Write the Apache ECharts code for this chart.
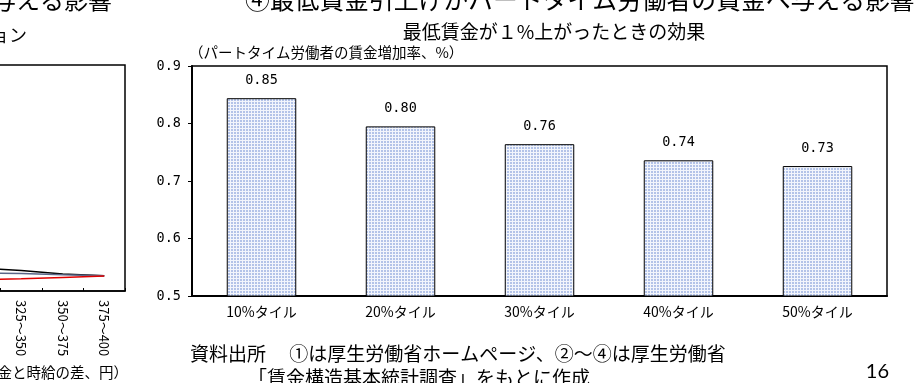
<!DOCTYPE html>
<html>
<head>
<meta charset="utf-8">
<script src="https://cdn.jsdelivr.net/npm/echarts@6/dist/echarts.min.js"></script>
<style>
html,body{margin:0;padding:0;background:#fff;}
#main{width:921px;height:383px;}
</style>
</head>
<body>
<div id="main"></div>
<script>
// ---- main bar chart data ----
const categories = ['10%タイル', '20%タイル', '30%タイル', '40%タイル', '50%タイル'];
const barValues = [0.844, 0.795, 0.764, 0.736, 0.726];
const barLabels = ['0.85', '0.80', '0.76', '0.74', '0.73'];
const yMin = 0.5, yMax = 0.9, yStep = 0.1;

// ---- partially visible left line chart data ----
const leftCategories = ['300～325', '325～350', '350～375', '375～400'];
const leftBlack = [1.02, 0.91, 0.75, 0.68];
const leftGrey = [0.80, 0.77, 0.72, 0.68];
const leftRed = [0.50, 0.54, 0.60, 0.66];

// ---- texts ----
const mainTitle = '④最低賃金引上げがパートタイム労働者の賃金へ与える影響';
const leftTitle = '③最低賃金引上げがパートタイム労働者の賃金へ与える影響';
const leftSub = 'シミュレーション';
const subTitle = '最低賃金が１%上がったときの効果';
const yName = '（パートタイム労働者の賃金増加率、%）';
const leftXName = '（最低賃金と時給の差、円）';
const source1 = '資料出所　 ①は厚生労働省ホームページ、②～④は厚生労働省';
const source2 = '「賃金構造基本統計調査」をもとに作成';
const pageNo = '16';

const JP = "'Noto Sans CJK JP', sans-serif";
const MONO = "'DejaVu Sans Mono', 'Liberation Mono', monospace";

function makePattern() {
  const c = document.createElement('canvas');
  c.width = 3; c.height = 3;
  const g = c.getContext('2d');
  g.fillStyle = '#f2f5fc';
  g.fillRect(0, 0, 3, 3);
  g.fillStyle = '#b3c3e8';
  g.fillRect(0, 0, 2, 2);
  return c;
}

const chart = echarts.init(document.getElementById('main'), null, {renderer: 'canvas'});

const option = {
  animation: false,
  backgroundColor: '#ffffff',
  grid: [
    {left: 192, right: 34, top: 66, bottom: 87, show: true, borderColor: '#000', borderWidth: 1.5,
      backgroundColor: 'transparent', outerBoundsMode: 'none', containLabel: false},
    {left: -41, width: 166, top: 65, height: 226, show: true, borderColor: '#000', borderWidth: 1.5,
      backgroundColor: 'transparent', outerBoundsMode: 'none', containLabel: false}
  ],
  xAxis: [
    {
      type: 'category', gridIndex: 0, data: categories,
      axisLine: {lineStyle: {color: '#000', width: 2}},
      axisTick: {show: false},
      axisLabel: {color: '#000', fontFamily: JP, fontSize: 14, margin: 9}
    },
    {
      type: 'category', gridIndex: 1, data: leftCategories,
      axisLine: {lineStyle: {color: '#000', width: 1.5}},
      axisTick: {show: true, inside: true, length: 3, lineStyle: {color: '#000'}},
      axisLabel: {color: '#000', fontFamily: JP, fontSize: 13, rotate: -90, margin: 9}
    }
  ],
  yAxis: [
    {
      type: 'value', gridIndex: 0, min: yMin, max: yMax, interval: yStep,
      axisLine: {show: true, lineStyle: {color: '#000', width: 2}},
      axisTick: {show: true, length: 4, lineStyle: {color: '#000'}},
      splitLine: {show: false},
      axisLabel: {color: '#000', fontFamily: MONO, fontSize: 13.5, margin: 11,
        formatter: v => v.toFixed(1)}
    },
    {
      type: 'value', gridIndex: 1, min: 0, max: 10, show: false, splitLine: {show: false}
    }
  ],
  series: [
    {
      type: 'bar', xAxisIndex: 0, yAxisIndex: 0, data: barValues, barWidth: '50%',
      itemStyle: {color: {image: makePattern(), repeat: 'repeat'}, borderColor: '#000', borderWidth: 1},
      label: {show: true, position: 'top', distance: 11, color: '#000', fontFamily: MONO, fontSize: 13.5,
        formatter: p => barLabels[p.dataIndex]}
    },
    {type: 'line', xAxisIndex: 1, yAxisIndex: 1, data: leftBlack, symbol: 'none', lineStyle: {color: '#000', width: 1.5}},
    {type: 'line', xAxisIndex: 1, yAxisIndex: 1, data: leftGrey, symbol: 'none', lineStyle: {color: '#5a6688', width: 1.5}},
    {type: 'line', xAxisIndex: 1, yAxisIndex: 1, data: leftRed, symbol: 'none', lineStyle: {color: '#e00000', width: 1.5}}
  ],
  graphic: [
    {type: 'text', x: 245, y: 0, style: {text: mainTitle, font: '24.8px ' + JP, fill: '#000', align: 'left', verticalAlign: 'middle'}},
    {type: 'text', x: 112, y: 0, style: {text: leftTitle, font: '24px ' + JP, fill: '#000', align: 'right', verticalAlign: 'middle'}},
    {type: 'text', x: 27, y: 35, style: {text: leftSub, font: '18px ' + JP, fill: '#000', align: 'right', verticalAlign: 'middle'}},
    {type: 'text', x: 554, y: 32, style: {text: subTitle, font: '19px ' + JP, fill: '#000', align: 'center', verticalAlign: 'middle'}},
    {type: 'text', x: 189, y: 52, style: {text: yName, font: '14.5px ' + JP, fill: '#000', align: 'left', verticalAlign: 'middle'}},
    {type: 'text', x: 128, y: 372, style: {text: leftXName, font: '14.5px ' + JP, fill: '#000', align: 'right', verticalAlign: 'middle'}},
    {type: 'text', x: 190, y: 354, style: {text: source1, font: '19px ' + JP, fill: '#000', align: 'left', verticalAlign: 'middle'}},
    {type: 'text', x: 248, y: 378, style: {text: source2, font: '19px ' + JP, fill: '#000', align: 'left', verticalAlign: 'middle'}},
    {type: 'text', x: 889, y: 372, style: {text: pageNo, font: '20px Lato, sans-serif', fill: '#000', align: 'right', verticalAlign: 'middle'}}
  ]
};
chart.setOption(option);
</script>
</body>
</html>
